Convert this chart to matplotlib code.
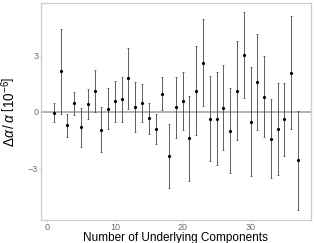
import matplotlib.pyplot as plt

plt.rcParams["font.family"] = ["Liberation Sans", "DejaVu Sans"]
plt.rcParams["mathtext.fontset"] = "custom"
plt.rcParams["mathtext.rm"] = "Liberation Sans"
plt.rcParams["mathtext.it"] = "Liberation Sans:italic"

# Data
components = list(range(1, 38))
delta_alpha = [-0.04, 2.15, -0.73, 0.46, -0.83, 0.41, 1.10, -0.96, 0.16, 0.55,
               0.67, 1.79, 0.25, 0.46, -0.35, -0.92, 0.96, -2.34, 0.23, 0.57,
               -1.42, 1.13, 2.61, -0.37, -0.37, 0.21, -1.01, 1.13, 3.03, -0.53,
               1.58, 0.80, -1.44, -0.94, -0.41, 2.09, -2.59]
errors = [0.52, 2.27, 0.60, 0.61, 1.05, 0.82, 1.13, 1.21, 1.09, 1.07,
          1.21, 1.63, 1.34, 1.01, 0.83, 0.81, 0.87, 1.70, 1.65, 1.53,
          2.26, 2.39, 2.32, 2.27, 2.49, 2.26, 2.26, 2.64, 2.28, 2.92,
          2.55, 2.15, 2.10, 2.45, 1.97, 3.00, 2.65]
xticks = [0, 10, 20, 30]
yticks = [-3, 0, 3]

fig = plt.figure(figsize=(3.14, 2.43), dpi=100)
ax = fig.add_axes([0.1306, 0.0947, 0.8594, 0.893])

ax.axhline(0, color="#a6a6a6", lw=1.2, zorder=1)
ax.errorbar(components, delta_alpha, yerr=errors, fmt="o", ms=1.3,
            color="black", ecolor="#444444", elinewidth=0.6,
            capsize=0.7, capthick=0.5, zorder=3)

ax.set_xlim(-0.9, 38.9)
ax.set_ylim(-5.77, 5.8)
ax.set_xticks(xticks)
ax.set_yticks(yticks)

for side in ax.spines.values():
    side.set_color("#cccccc")
    side.set_linewidth(0.9)

ax.tick_params(axis="both", colors="#d0d0d0", length=1.5, width=0.6,
               labelsize=6.5, labelcolor="#6e6e6e", pad=0.5)

ax.set_xlabel("Number of Underlying Components", fontsize=8.5)
ax.xaxis.set_label_coords(0.5, -0.056)
ax.set_ylabel(r"$\Delta\alpha\,/\,\alpha\ \left[10^{-6}\right]$", fontsize=9.8)
ax.yaxis.set_label_coords(-0.085, 0.5)

fig.savefig("out.png", dpi=100)
